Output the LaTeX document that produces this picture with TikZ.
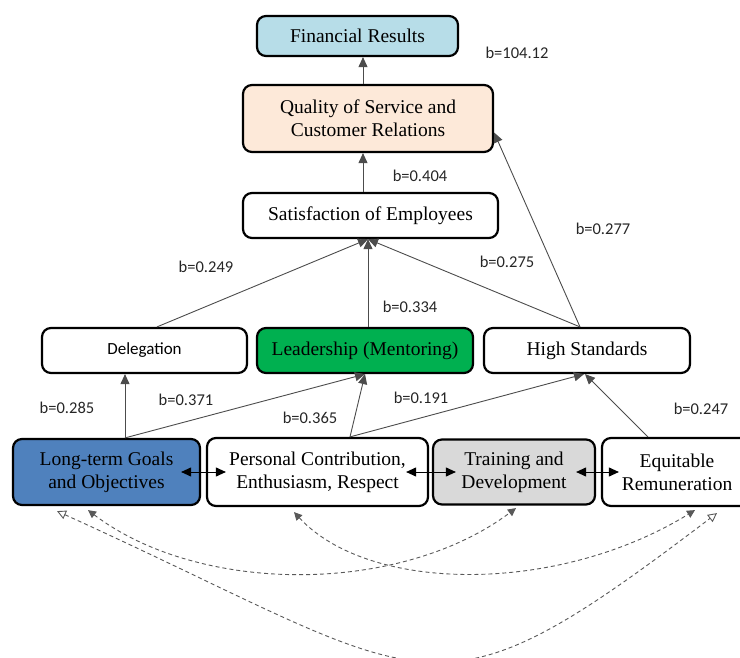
\documentclass[tikz,border=0pt]{standalone}
\usepackage{fontspec}
\setmainfont{Liberation Serif}
\newfontfamily\lblfont{Carlito}
\usetikzlibrary{arrows.meta}
\definecolor{finblue}{HTML}{B7DDE8}
\definecolor{qualpeach}{HTML}{FDE9D9}
\definecolor{leadgreen}{HTML}{00B050}
\definecolor{goalblue}{HTML}{4F81BD}
\definecolor{traingray}{HTML}{D9D9D9}
\begin{document}
\begin{tikzpicture}
[
    x=1pt, y=-1pt,
    box/.style={draw, line width=2.2pt, rounded corners=9pt, align=center, inner sep=0pt,
        font=\fontsize{19.5}{23}\selectfont},
    coef/.style={font=\lblfont\fontsize{16.5}{18}\selectfont, text=black!85},
    arr/.style={-{Triangle[length=10pt,width=9pt]}, line width=0.9pt, draw=black!70},
    both/.style={{Triangle[length=10pt,width=9pt]}-{Triangle[length=10pt,width=9pt]}, line width=1pt},
    link/.style={{Triangle[length=8pt,width=8pt]}-{Triangle[length=8pt,width=8pt]},
        dash pattern=on 4pt off 3pt, draw=black!65, line width=0.9pt},
    corr/.style={{Triangle[open,length=9pt,width=9pt]}-{Triangle[open,length=9pt,width=9pt]},
        dash pattern=on 4pt off 3pt, draw=black!65, line width=0.9pt},
]
\useasboundingbox (0,0) rectangle (740,658);

\node[box, fill=finblue, minimum width=201pt, minimum height=40pt] (fin) at (357.5,36) {Financial Results};
\node[box, fill=qualpeach, minimum width=250pt, minimum height=67pt] (qual) at (368,118.5) {Quality of Service and\\Customer Relations};
\node[box, minimum width=255pt, minimum height=45pt] (sat) at (370.5,215.5) {Satisfaction of Employees};
\node[box, minimum width=205pt, minimum height=45pt, font=\lblfont\fontsize{17}{20}\selectfont] (deleg) at (144.5,350.5) {Delegation};
\node[box, fill=leadgreen, minimum width=216pt, minimum height=45pt] (lead) at (365,350.5) {Leadership (Mentoring)};
\node[box, minimum width=206pt, minimum height=45pt] (high) at (587,350.5) {High Standards};
\node[box, fill=goalblue, minimum width=187pt, minimum height=66pt] (goals) at (106.5,472) {Long-term Goals\\and Objectives};
\node[box, minimum width=221pt, minimum height=68pt] (contrib) at (317.5,472) {Personal Contribution,\\Enthusiasm, Respect};
\node[box, fill=traingray, minimum width=162pt, minimum height=65pt] (train) at (514,472) {Training and\\Development};
\node[box, minimum width=150pt, minimum height=68pt] (remun) at (677,472) {Equitable\\Remuneration};

\draw[arr] ([xshift=-5pt]qual.north) -- ([xshift=5.5pt]fin.south);
\draw[arr] ([xshift=-7.5pt]sat.north) -- ([xshift=-5pt]qual.south);
\draw[arr] ([xshift=12.5pt]deleg.north) -- ([xshift=-2.5pt]sat.south);
\draw[arr] ([xshift=3pt]lead.north) -- ([xshift=-2.5pt]sat.south);
\draw[arr] ([xshift=-7pt]high.north) -- ([xshift=-2.5pt]sat.south);
\draw[arr] ([xshift=-7pt]high.north) -- ([yshift=-14pt]qual.east);
\draw[arr] ([xshift=18.5pt]goals.north) -- ([xshift=-19.5pt]deleg.south);
\draw[arr] ([xshift=18.5pt]goals.north) -- (lead.south);
\draw[arr] ([xshift=32.5pt]contrib.north) -- (lead.south);
\draw[arr] ([xshift=32.5pt]contrib.north) -- ([xshift=-3pt]high.south);
\draw[arr] ([xshift=-29pt]remun.north) -- ([xshift=-2pt]high.south);

\draw[both] ([xshift=-20pt]goals.east) -- ([xshift=20pt]contrib.west);
\draw[both] ([xshift=-23pt]contrib.east) -- ([xshift=24pt]train.west);
\draw[both] ([xshift=-20pt]train.east) -- ([xshift=18pt]remun.west);

% correlations between the factors
\draw[link] ([xshift=-18.5pt,yshift=-4pt]goals.south) .. controls (200,595) and (400,595) .. ([xshift=2pt,yshift=-2.5pt]train.south);
\draw[link] ([xshift=-23.5pt,yshift=-5pt]contrib.south) .. controls (370,594) and (559,594) .. ([xshift=18pt,yshift=-3pt]remun.south);
\draw[corr] ([xshift=-49.5pt,yshift=-5pt]goals.south) .. controls (440,685) and (425,735) .. ([xshift=40pt,yshift=-6pt]remun.south);

\node[coef] (b1) at (517,53) {b=104.12};
\node[coef] (b2) at (420,176) {b=0.404};
\node[coef] (b3) at (603,229) {b=0.277};
\node[coef] (b4) at (206,267) {b=0.249};
\node[coef] (b5) at (507,262) {b=0.275};
\node[coef] (b6) at (410,307) {b=0.334};
\node[coef] (b7) at (67,408) {b=0.285};
\node[coef] (b8) at (186,400) {b=0.371};
\node[coef] (b9) at (310,418) {b=0.365};
\node[coef] (b10) at (421,398) {b=0.191};
\node[coef] (b11) at (701,409) {b=0.247};
\end{tikzpicture}
\end{document}
